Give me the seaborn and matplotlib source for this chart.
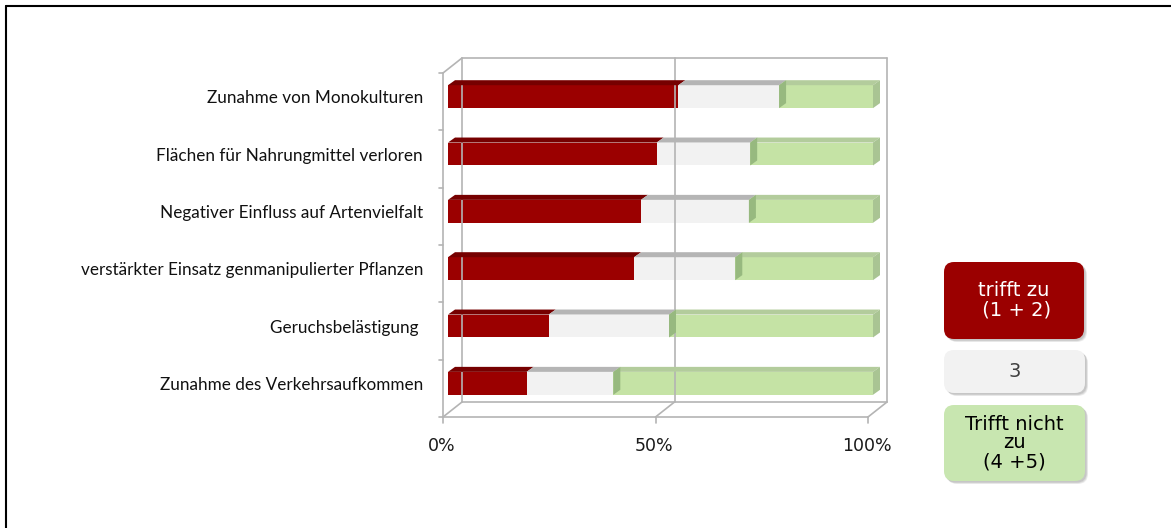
import matplotlib
matplotlib.use("Agg")
import matplotlib.pyplot as plt
import seaborn as sns
import numpy as np
import pandas as pd
from matplotlib.patches import Polygon, FancyBboxPatch
from matplotlib.lines import Line2D
from matplotlib.transforms import IdentityTransform

# ---------------- data ----------------
categories = [
    "Zunahme von Monokulturen",
    "Flächen für Nahrungmittel verloren",
    "Negativer Einfluss auf Artenvielfalt",
    "verstärkter Einsatz genmanipulierter Pflanzen",
    "Geruchsbelästigung ",
    "Zunahme des Verkehrsaufkommen",
]
trifft_zu = [54.2, 49.1, 45.4, 43.8, 23.7, 18.5]
neutral = [23.7, 22.0, 25.4, 23.8, 28.3, 20.4]
trifft_nicht = [22.1, 28.9, 29.2, 32.4, 48.0, 61.1]
series_labels = ["trifft zu\n (1 + 2)", "3", "Trifft nicht\nzu\n(4 +5)"]
x_ticks = [0, 50, 100]
x_tick_labels = ["0%", "50%", "100%"]

# ---------------- style ----------------
RED, RED_TOP = "#9b0000", "#760000"
GREY, GREY_TOP = "#f2f2f2", "#b5b5b5"
GREEN, GREEN_TOP, GREEN_SIDE, GREEN_LEFT = "#bbde95", "#b3cc9c", "#a9c493", "#97b97f"
WALL = "#b4b4b4"

W, H, DPI = 1171, 528, 100
sns.set_theme(style="white")
plt.rcParams["font.family"] = ["DejaVu Sans"]

fig = plt.figure(figsize=(W / DPI, H / DPI), dpi=DPI)
fig.patch.set_facecolor("white")


def fx(px):
    return px / W


def fy(py):
    return 1 - py / H


ax = fig.add_axes([fx(448), fy(412), fx(873) - fx(448), fy(68) - fy(412)])
ax.set_facecolor("none")

df = pd.DataFrame({
    "cat": categories,
    "red": trifft_zu,
    "grey": neutral,
    "green": trifft_nicht,
})
df["c2"] = df["red"] + df["grey"]
df["c3"] = df["c2"] + df["green"]

BW = 0.4
sns.barplot(data=df, x="c3", y="cat", orient="h", color=GREEN, width=BW,
            saturation=1, alpha=0.85, edgecolor="none", ax=ax, zorder=2)
sns.barplot(data=df, x="c2", y="cat", orient="h", color=GREY, width=BW,
            saturation=1, edgecolor="none", ax=ax, zorder=3)
sns.barplot(data=df, x="red", y="cat", orient="h", color=RED, width=BW,
            saturation=1, edgecolor="none", ax=ax, zorder=4)

n = len(categories)
ax.set_xlim(0, 100)
ax.set_ylim(n - 0.5, -0.5)
for s in ax.spines.values():
    s.set_visible(False)
ax.set_xlabel("")
ax.set_ylabel("")
ax.set_xticks([])
ax.set_yticks(range(n))
ax.set_yticklabels(categories, fontfamily="Lato", fontsize=12.3, color="#111111")
ax.tick_params(axis="y", length=0, pad=18)

fig.canvas.draw()


def disp(x, y, dx=0, dy=0):
    px, py = ax.transData.transform((x, y))
    return (px + dx, py - dy)  # dy given in image pixels (down positive)


FRONT = (-5, 5)
BACK = (14, -10)


def line(p, q, **kw):
    l = Line2D([p[0], q[0]], [p[1], q[1]], transform=IdentityTransform(),
               color=WALL, lw=1.2, zorder=0.5, **kw)
    fig.add_artist(l)


ytop, ybot = -0.5, n - 0.5
# back wall
line(disp(0, ytop, *BACK), disp(100, ytop, *BACK))
line(disp(0, ybot, *BACK), disp(100, ybot, *BACK))
for xv in x_ticks:
    line(disp(xv, ytop, *BACK), disp(xv, ybot, *BACK))
# left wall
line(disp(0, ytop, *FRONT), disp(0, ybot, *FRONT))
line(disp(0, ytop, *FRONT), disp(0, ytop, *BACK))
# floor
line(disp(0, ybot, *FRONT), disp(100, ybot, *FRONT))
for xv in x_ticks:
    line(disp(xv, ybot, *FRONT), disp(xv, ybot, *BACK))
    p = disp(xv, ybot, *FRONT)
    line(p, (p[0], p[1] - 6))
# left ticks
for yb in np.arange(-0.5, n, 1.0):
    p = disp(0, yb, *FRONT)
    line(p, (p[0] - 4, p[1]))

# x tick labels
for xv, lab in zip(x_ticks, x_tick_labels):
    p = disp(xv, ybot, -6, 34)
    fig.text(p[0] / W, p[1] / H, lab, ha="center", va="center",
             fontsize=12.5, color="#1a1a1a")

# 3D faces of the bars
DX, DY = 7, 5


def poly(pts, color, z):
    fig.add_artist(Polygon(pts, closed=True, transform=IdentityTransform(),
                           facecolor=color, edgecolor="none", zorder=z))


for i in range(n):
    r, c2, c3 = df.loc[i, "red"], df.loc[i, "c2"], df.loc[i, "c3"]
    top, bot = i - BW / 2, i + BW / 2
    segs = [(0, r, RED_TOP), (r, c2, GREY_TOP), (c2, c3, GREEN_TOP)]
    for x0, x1, col in segs:
        a = disp(x0, top)
        b = disp(x1, top)
        poly([a, b, (b[0] + DX, b[1] + DY), (a[0] + DX, a[1] + DY)], col, 2.6)
    # left face at start of green segment
    a = disp(c2, top)
    b = disp(c2, bot)
    poly([a, (a[0] + DX, a[1] + DY), (b[0] + DX, b[1] + DY), b], GREEN_LEFT, 2.7)
    # right face at end
    a = disp(c3, top)
    b = disp(c3, bot)
    poly([a, (a[0] + DX, a[1] + DY), (b[0] + DX, b[1] + DY), b], GREEN_SIDE, 2.7)

# ---------------- legend boxes ----------------
legend_cols = [RED, "#f2f2f2", "#c8e6b0"]
legend_txt = ["white", "#404040", "black"]
boxes = [(944, 262, 140, 77), (944, 350, 141, 43), (944, 405, 141, 76)]
for (bx, by, bw, bh), col, tc, lab in zip(boxes, legend_cols, legend_txt, series_labels):
    y0 = H - by - bh
    for k, al in enumerate([0.10, 0.12, 0.15]):
        sh = FancyBboxPatch((bx + 3 - k * 0.7, y0 - 3 + k * 0.7), bw, bh,
                            boxstyle="round,pad=0,rounding_size=10",
                            transform=IdentityTransform(), facecolor="#555555",
                            edgecolor="none", alpha=al, zorder=5)
        fig.add_artist(sh)
    fig.add_artist(FancyBboxPatch((bx, y0), bw, bh,
                                  boxstyle="round,pad=0,rounding_size=10",
                                  transform=IdentityTransform(), facecolor=col,
                                  edgecolor="none", zorder=6))
    fig.text((bx + bw / 2) / W, (y0 + bh / 2) / H, lab, ha="center", va="center",
             multialignment="center", fontsize=14, color=tc, linespacing=1.0,
             zorder=7)

# ---------------- outer frame (top and left) ----------------
fig.add_artist(Line2D([5.5, W], [H - 5.5, H - 5.5], transform=IdentityTransform(),
                      color="black", lw=1.5))
fig.add_artist(Line2D([5.5, 5.5], [0, H - 5.5], transform=IdentityTransform(),
                      color="black", lw=1.5))

fig.savefig("out.png", dpi=DPI)
